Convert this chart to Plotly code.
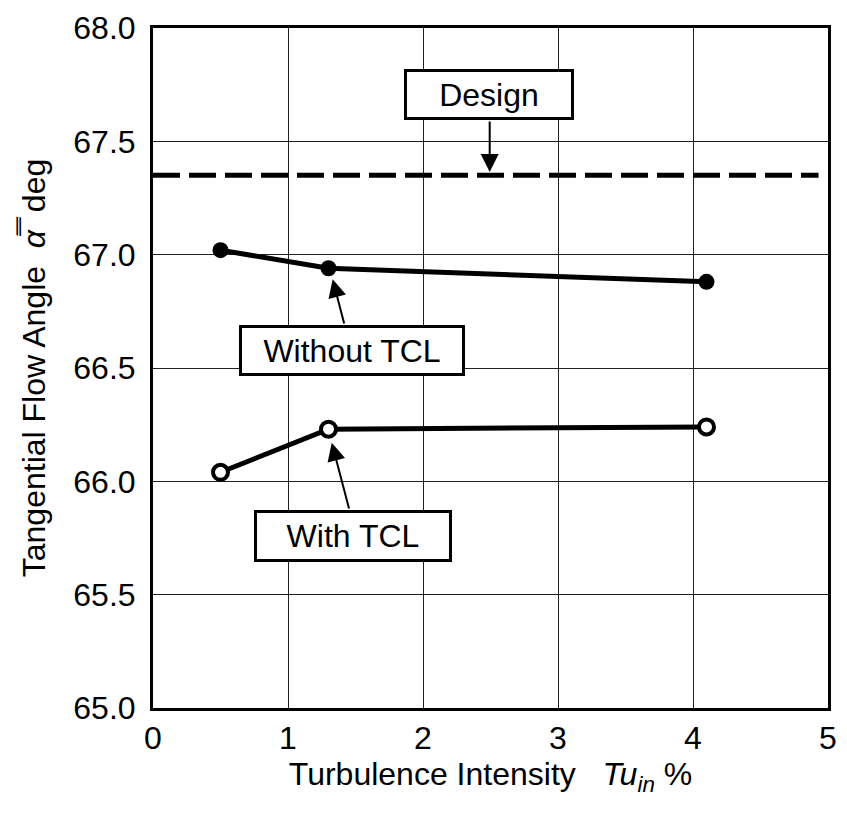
import plotly.graph_objects as go

# Inlet turbulence intensity Tu_in (%)
tu_without = [0.5, 1.3, 4.1]
angle_without = [67.02, 66.94, 66.88]

tu_with = [0.5, 1.3, 4.1]
angle_with = [66.04, 66.23, 66.24]

design_tu = [0.0, 4.93]
design_angle = [67.35, 67.35]

x_ticks = [0, 1, 2, 3, 4, 5]
y_ticks = [65.0, 65.5, 66.0, 66.5, 67.0, 67.5, 68.0]

FONT = "Liberation Sans, Arial, sans-serif"
FS = 32

fig = go.Figure()

fig.add_trace(go.Scatter(
    x=design_tu, y=design_angle, mode="lines",
    line=dict(color="black", width=5, dash="27px,9px"),
    showlegend=False, hoverinfo="skip"))

fig.add_trace(go.Scatter(
    x=tu_without, y=angle_without, mode="lines+markers",
    line=dict(color="black", width=5),
    marker=dict(symbol="circle", size=16, color="black"),
    showlegend=False))

fig.add_trace(go.Scatter(
    x=tu_with, y=angle_with, mode="lines+markers",
    line=dict(color="black", width=5),
    marker=dict(symbol="circle", size=15, color="white",
                line=dict(color="black", width=4)),
    showlegend=False))

# labelled boxes with pointer arrows
boxes = [
    dict(text="Design", x=2.486, y=67.705, w=164, h=45),
    dict(text="Without TCL", x=1.477, y=66.579, w=220, h=45),
    dict(text="With TCL", x=1.484, y=65.760, w=192, h=46),
]
arrows = [
    dict(x=2.494, y=67.365, ax=2.494, ay=67.594),
    dict(x=1.331, y=66.891, ax=1.419, ay=66.69),
    dict(x=1.324, y=66.17, ax=1.455, ay=65.873),
]

annotations = []
for a in arrows:
    annotations.append(dict(
        x=a["x"], y=a["y"], ax=a["ax"], ay=a["ay"],
        xref="x", yref="y", axref="x", ayref="y",
        text="", showarrow=True, arrowhead=2, arrowsize=1.8,
        arrowwidth=2, arrowcolor="black"))
for b in boxes:
    annotations.append(dict(
        x=b["x"], y=b["y"], xref="x", yref="y", text=b["text"],
        showarrow=False, width=b["w"], height=b["h"],
        bgcolor="white", bordercolor="black", borderwidth=3, borderpad=0,
        font=dict(family=FONT, size=FS, color="black")))

fig.update_layout(
    width=847, height=814,
    margin=dict(l=153, r=10, t=21, b=106),
    paper_bgcolor="white", plot_bgcolor="white",
    font=dict(family=FONT, size=FS, color="black"),
    annotations=annotations,
    xaxis=dict(
        range=[0, 5], tickvals=x_ticks, ticktext=[str(v) for v in x_ticks],
        showgrid=True, gridcolor="#222", gridwidth=1,
        showline=True, linecolor="black", linewidth=3, mirror=True,
        ticks="", zeroline=False, ticklabelstandoff=0,
        title=dict(text="Turbulence Intensity   <i>Tu<sub>in</sub></i> %",
                   font=dict(family=FONT, size=FS), standoff=0)),
    yaxis=dict(
        range=[65.0, 68.0], tickvals=y_ticks,
        ticktext=[f"{v:.1f}" for v in y_ticks],
        showgrid=True, gridcolor="#222", gridwidth=1,
        showline=True, linecolor="black", linewidth=3, mirror=True,
        ticks="", zeroline=False, ticklabelstandoff=8,
        title=dict(text="Tangential Flow Angle  <i>\u03b1\u033f</i>  deg",
                   font=dict(family=FONT, size=FS), standoff=19)),
)

fig.write_html("out.html")
